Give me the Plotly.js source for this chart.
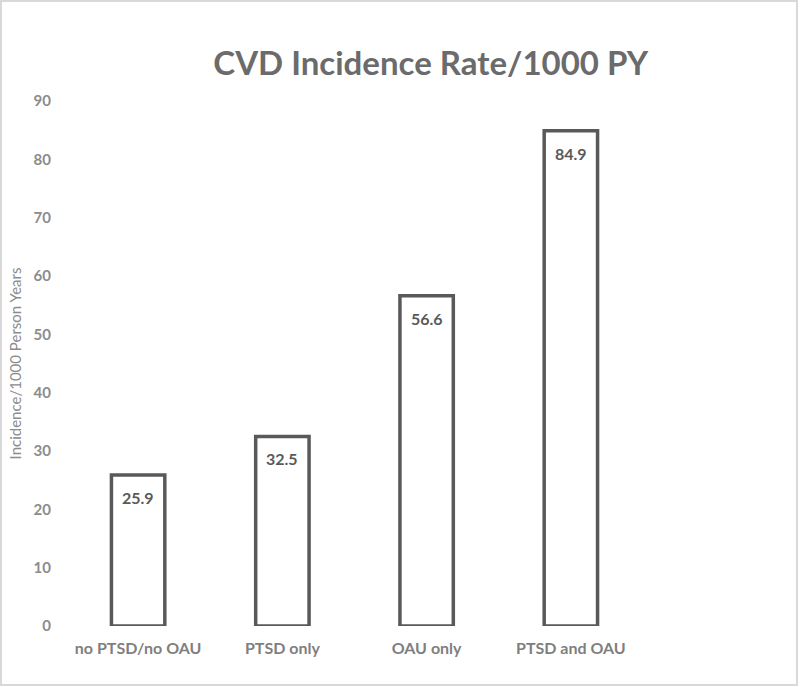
<!DOCTYPE html>
<html>
<head>
<meta charset="utf-8">
<script src="https://cdn.plot.ly/plotly-3.0.1.min.js"></script>
<style>
  body { margin: 0; background: #fff; }
  #chart { width: 798px; height: 686px; border: 2px solid #d9d9d9; box-sizing: border-box; }
</style>
</head>
<body>
<div id="chart"></div>
<script>
var groups = ['no PTSD/no OAU', 'PTSD only', 'OAU only', 'PTSD and OAU'];
var rates = [25.9, 32.5, 56.6, 84.9];
var yTicks = [0, 10, 20, 30, 40, 50, 60, 70, 80, 90];

var font = 'Lato, "Liberation Sans", sans-serif';

var trace1 = {
  type: 'bar',
  x: groups,
  y: rates,
  width: 0.37,
  marker: {
    color: '#ffffff',
    line: { color: '#595959', width: 3.5 }
  },
  hoverinfo: 'x+y'
};

var labels = [];
for (var i = 0; i < groups.length; i++) {
  labels.push({
    x: groups[i],
    y: rates[i],
    text: rates[i].toFixed(1),
    showarrow: false,
    yanchor: 'top',
    yshift: -11,
    font: { family: font, size: 16, color: '#595959', weight: 'bold' }
  });
}

var layout = {
  width: 794,
  height: 682,
  margin: { l: 64, r: 153, t: 99, b: 58 },
  paper_bgcolor: '#ffffff',
  plot_bgcolor: '#ffffff',
  showlegend: false,
  title: {
    text: '<b>CVD Incidence Rate/1000 PY</b>',
    font: { family: font, size: 33, color: '#6b6b6b' },
    x: 0.54,
    xanchor: 'center',
    y: 0.91,
    yanchor: 'middle'
  },
  xaxis: {
    showline: false,
    showgrid: false,
    zeroline: false,
    ticks: '',
    tickfont: { family: font, size: 16, color: '#7f7f7f', weight: 'bold' },
    ticklabelstandoff: 11,
    range: [-0.5, 3.5],
    fixedrange: true
  },
  yaxis: {
    range: [0, 90],
    tickvals: yTicks,
    showline: false,
    showgrid: false,
    zeroline: false,
    ticks: '',
    tickfont: { family: font, size: 15, color: '#8c8c8c', weight: 'bold' },
    ticklabelstandoff: 14,
    title: {
      text: 'Incidence/1000 Person Years',
      font: { family: font, size: 15, color: '#8c8c8c' },
      standoff: 8
    },
    fixedrange: true
  },
  annotations: labels
};

Plotly.newPlot('chart', [trace1], layout, { displayModeBar: false, staticPlot: true });
</script>
</body>
</html>
